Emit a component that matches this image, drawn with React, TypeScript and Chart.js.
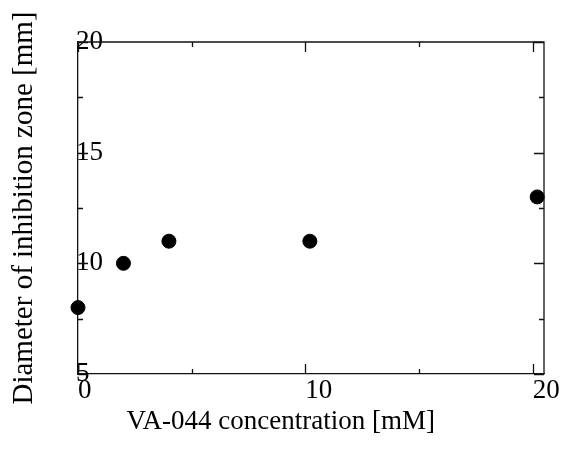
import React, { useEffect, useRef } from "react";
import { Chart, registerables } from "chart.js";

Chart.register(...registerables);

const concentrations = [0, 2, 4, 10.2, 20.2];
const diameters = [8, 10, 11, 11, 13];
const xMajorTicks = [0, 10, 20];
const xMinorTicks = [5, 15];
const yMajorTicks = [5, 10, 15, 20];
const yMinorTicks = [7.5, 12.5, 17.5];
const xTitle = "VA-044 concentration [mM]";
const yTitle = "Diameter of inhibition zone [mm]";

const FONT = '"Liberation Serif", "Times New Roman", serif';

const framePlugin = {
  id: "frame",
  beforeDatasetsDraw(chart: any) {
    const { ctx, chartArea, scales } = chart;
    const { left, right, top, bottom } = chartArea;
    const x = scales.x;
    const y = scales.y;
    ctx.save();
    ctx.strokeStyle = "#111";
    ctx.lineWidth = 1.3;
    ctx.beginPath();
    ctx.moveTo(left, top);
    ctx.lineTo(right, top);
    ctx.lineTo(right, bottom);
    ctx.stroke();
    const major = 10;
    const minor = 5;
    ctx.beginPath();
    const xt = (v: number, len: number) => {
      const px = Math.round(x.getPixelForValue(v)) + 0.5;
      ctx.moveTo(px, bottom);
      ctx.lineTo(px, bottom - len);
      ctx.moveTo(px, top);
      ctx.lineTo(px, top + len);
    };
    const yt = (v: number, len: number) => {
      const py = Math.round(y.getPixelForValue(v)) + 0.5;
      ctx.moveTo(left, py);
      ctx.lineTo(left + len, py);
      ctx.moveTo(right, py);
      ctx.lineTo(right - len, py);
    };
    xMajorTicks.forEach((v) => xt(v, major));
    xMinorTicks.forEach((v) => xt(v, minor));
    yMajorTicks.forEach((v) => yt(v, major));
    yMinorTicks.forEach((v) => yt(v, minor));
    ctx.stroke();
    ctx.restore();
  },
  afterDraw(chart: any) {
    const { ctx, chartArea } = chart;
    ctx.save();
    ctx.fillStyle = "#000";
    ctx.font = `27px ${FONT}`;
    ctx.textAlign = "center";
    ctx.textBaseline = "middle";
    const cx = chartArea.left + (chartArea.right - chartArea.left) * 0.435;
    ctx.fillText(xTitle, cx, chartArea.bottom + 48);
    ctx.restore();
  },
};

export default function App() {
  const ref = useRef<HTMLCanvasElement>(null);
  useEffect(() => {
    const canvas = ref.current;
    if (!canvas) return;
    const chart = new Chart(canvas, {
      type: "scatter",
      data: {
        datasets: [
          {
            data: concentrations.map((c, i) => ({ x: c, y: diameters[i] })),
            backgroundColor: "#000",
            borderColor: "#000",
            pointRadius: 7,
            pointHoverRadius: 7,
            clip: false as any,
          },
        ],
      },
      options: {
        animation: false,
        responsive: false,
        events: [],
        layout: { padding: { top: 42, right: 20, left: 0, bottom: 0 } },
        plugins: { legend: { display: false }, tooltip: { enabled: false } },
        scales: {
          x: {
            type: "linear",
            position: "bottom",
            min: 0,
            max: 20.5,
            afterBuildTicks: (s: any) => {
              s.ticks = xMajorTicks.map((v) => ({ value: v }));
            },
            afterFit: (s: any) => {
              s.height = 79;
            },
            grid: { display: false, drawTicks: false },
            border: { display: true, color: "#111", width: 1.3 },
            ticks: {
              align: "start",
              color: "#000",
              padding: 1,
              maxRotation: 0,
              font: { family: FONT, size: 27 },
            },
          },
          y: {
            type: "linear",
            position: "left",
            min: 5,
            max: 20,
            afterBuildTicks: (s: any) => {
              s.ticks = yMajorTicks.map((v) => ({ value: v }));
            },
            afterFit: (s: any) => {
              s.width = 78;
            },
            grid: { display: false, drawTicks: false },
            border: { display: true, color: "#111", width: 1.3 },
            ticks: {
              mirror: true,
              padding: -2,
              color: "#000",
              font: { family: FONT, size: 27 },
            },
            title: {
              display: true,
              text: yTitle,
              color: "#000",
              font: { family: FONT, size: 29 },
              padding: { top: 7, bottom: 0 },
            },
          },
        },
      },
      plugins: [framePlugin],
    } as any);
    return () => chart.destroy();
  }, []);
  return (
    <div style={{ position: "fixed", left: 0, top: 0, width: 564, height: 453, background: "#fff" }}>
      <canvas ref={ref} width={564} height={453} />
    </div>
  );
}
